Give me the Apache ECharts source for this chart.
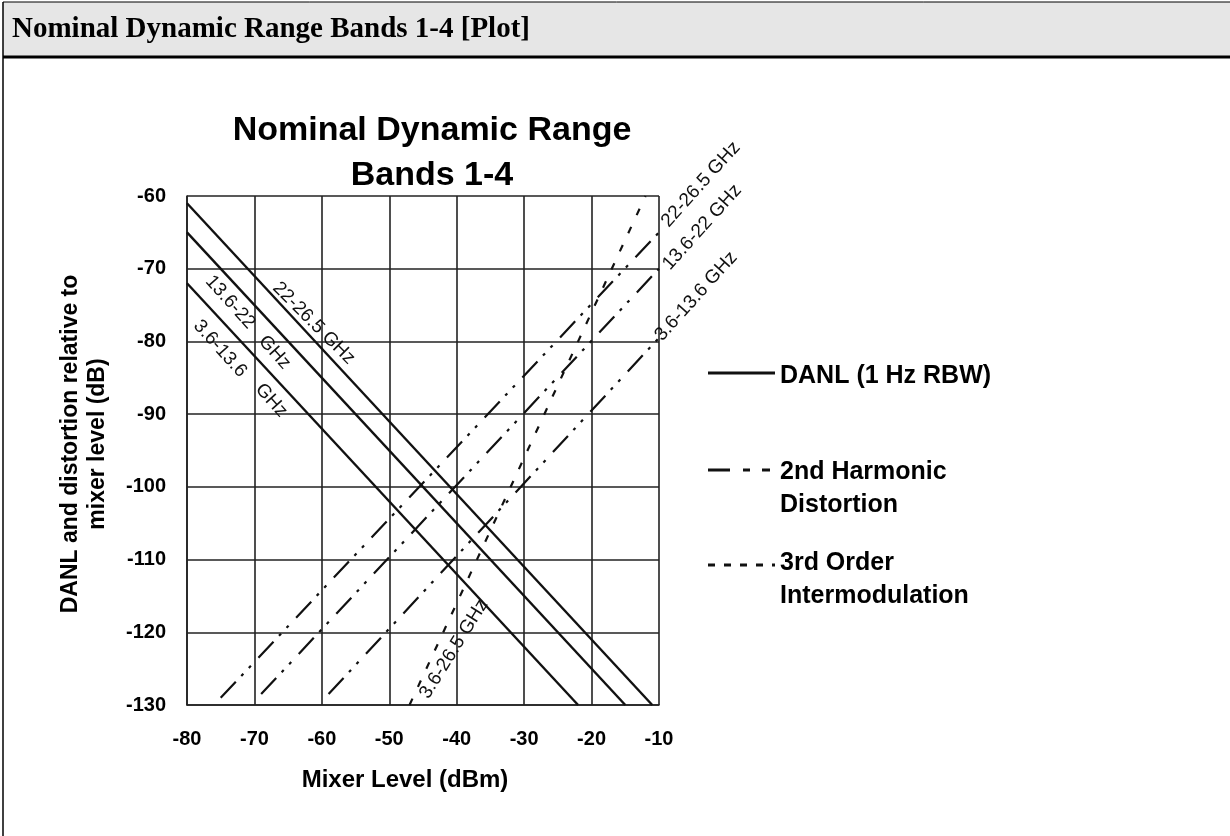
<!DOCTYPE html>
<html>
<head>
<meta charset="utf-8">
<title>Nominal Dynamic Range Bands 1-4</title>
<script src="https://cdn.jsdelivr.net/npm/echarts@6/dist/echarts.min.js"></script>
<style>
    html, body { margin: 0; padding: 0; background: #fff; }
    #chart { width: 1230px; height: 836px; }
</style>
</head>
<body>
<div id="chart"></div>
<script>
// Axes: mixer level (dBm) and level relative to mixer level (dB)
const xTicks = [-80, -70, -60, -50, -40, -30, -20, -10];
const yTicks = [-130, -120, -110, -100, -90, -80, -70, -60];

// DANL (1 Hz RBW), one line per band: [mixer level, dB]
const danl22to265 = [[-80, -61], [-11, -130]];
const danl136to22 = [[-80, -65], [-15, -130]];
const danl36to136 = [[-80, -72], [-22, -130]];

// 2nd harmonic distortion, one line per band
const shd22to265 = [[-75, -129], [-10, -65]];
const shd136to22 = [[-69, -128.5], [-10, -70]];
const shd36to136 = [[-59, -128.5], [-10, -79.5]];

// 3rd order intermodulation, all bands
const toi36to265 = [[-47, -130], [-12, -60]];

// Band annotations: text, anchor [x, y] in data units, angle (deg)
const bandLabels = [
    ['22-26.5 GHz', [-61.2, -77.5], -45],
    ['13.6-22', [-73.6, -74.6], -48],
    ['GHz', [-67, -81.5], -48],
    ['3.6-13.6', [-75.1, -81], -48],
    ['GHz', [-67.5, -88.1], -48],
    ['22-26.5 GHz', [-3.8, -58.4], 48],
    ['13.6-22 GHz', [-3.6, -64.3], 48],
    ['3.6-13.6 GHz', [-4.5, -73.8], 48],
    ['3.6-26.5 GHz', [-40.4, -122.3], 58]
];

const legendItems = ['DANL (1 Hz RBW)', '2nd Harmonic\nDistortion', '3rd Order\nIntermodulation'];

const FONT = '"Liberation Sans", Arial, sans-serif';
const DASH_2ND = [22, 8, 3, 8, 3, 11];
const DASH_3RD = [7, 13];

const chart = echarts.init(document.getElementById('chart'), null, { renderer: 'canvas' });

function lineSeries(name, data, dash) {
    return {
        name: name,
        type: 'line',
        data: data,
        symbol: 'none',
        silent: true,
        animation: false,
        lineStyle: { color: '#111', width: dash ? 2.2 : 2.4, type: dash || 'solid' }
    };
}

const option = {
    backgroundColor: '#fff',
    animation: false,
    title: {
        text: 'Nominal Dynamic Range\nBands 1-4',
        left: 427,
        top: 103,
        textAlign: 'center',
        textStyle: { fontFamily: FONT, fontWeight: 'bold', fontSize: 34, lineHeight: 45, color: '#000' }
    },
    grid: { left: 187, top: 196, width: 472, height: 509, show: false },
    xAxis: {
        type: 'value',
        min: xTicks[0],
        max: xTicks[xTicks.length - 1],
        interval: 10,
        axisLine: { show: true, lineStyle: { color: '#222', width: 1.6 } },
        axisTick: { show: false },
        axisLabel: { color: '#000', fontFamily: FONT, fontWeight: 'bold', fontSize: 20, margin: 24 },
        splitLine: { show: true, lineStyle: { color: '#222', width: 1.6 } }
    },
    yAxis: {
        type: 'value',
        min: yTicks[0],
        max: yTicks[yTicks.length - 1],
        interval: 10,
        axisLine: { show: true, lineStyle: { color: '#222', width: 1.6 } },
        axisTick: { show: false },
        axisLabel: { color: '#000', fontFamily: FONT, fontWeight: 'bold', fontSize: 20, margin: 21 },
        splitLine: { show: true, lineStyle: { color: '#222', width: 1.6 } }
    },
    series: [
        lineSeries('DANL 22-26.5 GHz', danl22to265),
        lineSeries('DANL 13.6-22 GHz', danl136to22),
        lineSeries('DANL 3.6-13.6 GHz', danl36to136),
        lineSeries('2nd harmonic 22-26.5 GHz', shd22to265, DASH_2ND),
        lineSeries('2nd harmonic 13.6-22 GHz', shd136to22, DASH_2ND),
        lineSeries('2nd harmonic 3.6-13.6 GHz', shd36to136, DASH_2ND),
        lineSeries('3rd order 3.6-26.5 GHz', toi36to265, DASH_3RD)
    ]
};

chart.setOption(option);

// Page frame, axis names, band annotations and legend
const elements = [
    { type: 'rect', shape: { x: 3, y: 2, width: 1227, height: 54 }, style: { fill: '#e6e6e6' }, z: -10 },
    { type: 'line', shape: { x1: 3, y1: 2, x2: 1230, y2: 2 }, style: { stroke: '#000', lineWidth: 1 } },
    { type: 'line', shape: { x1: 3, y1: 57, x2: 1230, y2: 57 }, style: { stroke: '#000', lineWidth: 3 } },
    { type: 'line', shape: { x1: 3, y1: 2, x2: 3, y2: 836 }, style: { stroke: '#000', lineWidth: 1.5 } },
    {
        type: 'text', x: 12, y: 30,
        style: { text: 'Nominal Dynamic Range Bands 1-4 [Plot]', font: 'bold 29px "Liberation Serif", "Times New Roman", serif', fill: '#000', textAlign: 'left', textVerticalAlign: 'middle' }
    },
    {
        type: 'text', x: 405, y: 780,
        style: { text: 'Mixer Level (dBm)', font: 'bold 24px ' + FONT, fill: '#000', textAlign: 'center', textVerticalAlign: 'middle' }
    },
    {
        type: 'text', x: 84, y: 444, rotation: Math.PI / 2,
        style: { text: 'DANL and distortion relative to\nmixer level (dB)', font: 'bold 23px ' + FONT, lineHeight: 27, fill: '#000', textAlign: 'center', textVerticalAlign: 'middle' }
    }
];

bandLabels.forEach(function (b) {
    const p = chart.convertToPixel({ gridIndex: 0 }, b[1]);
    elements.push({
        type: 'text', x: p[0], y: p[1], rotation: b[2] * Math.PI / 180,
        style: { text: b[0], font: '19px ' + FONT, fill: '#111', textAlign: 'center', textVerticalAlign: 'middle' }
    });
});

// legend: sample line y, first text line centre y, dash pattern
const legendLineY = [373, 470, 565];
const legendTextY = [376, 472, 563];
const legendDash = [null, [22, 13, 7, 12, 8, 60], [7, 9]];
legendItems.forEach(function (label, i) {
    elements.push({
        type: 'line', shape: { x1: 708, y1: legendLineY[i], x2: 775, y2: legendLineY[i] },
        style: { stroke: '#111', lineWidth: 3, lineDash: legendDash[i] }
    });
    elements.push({
        type: 'text', x: 780, y: legendTextY[i] - 16.5,
        style: { text: label, font: 'bold 25px ' + FONT, lineHeight: 33, fill: '#000', textAlign: 'left', textVerticalAlign: 'top' }
    });
});

chart.setOption({ graphic: { elements: elements } });
</script>
</body>
</html>
